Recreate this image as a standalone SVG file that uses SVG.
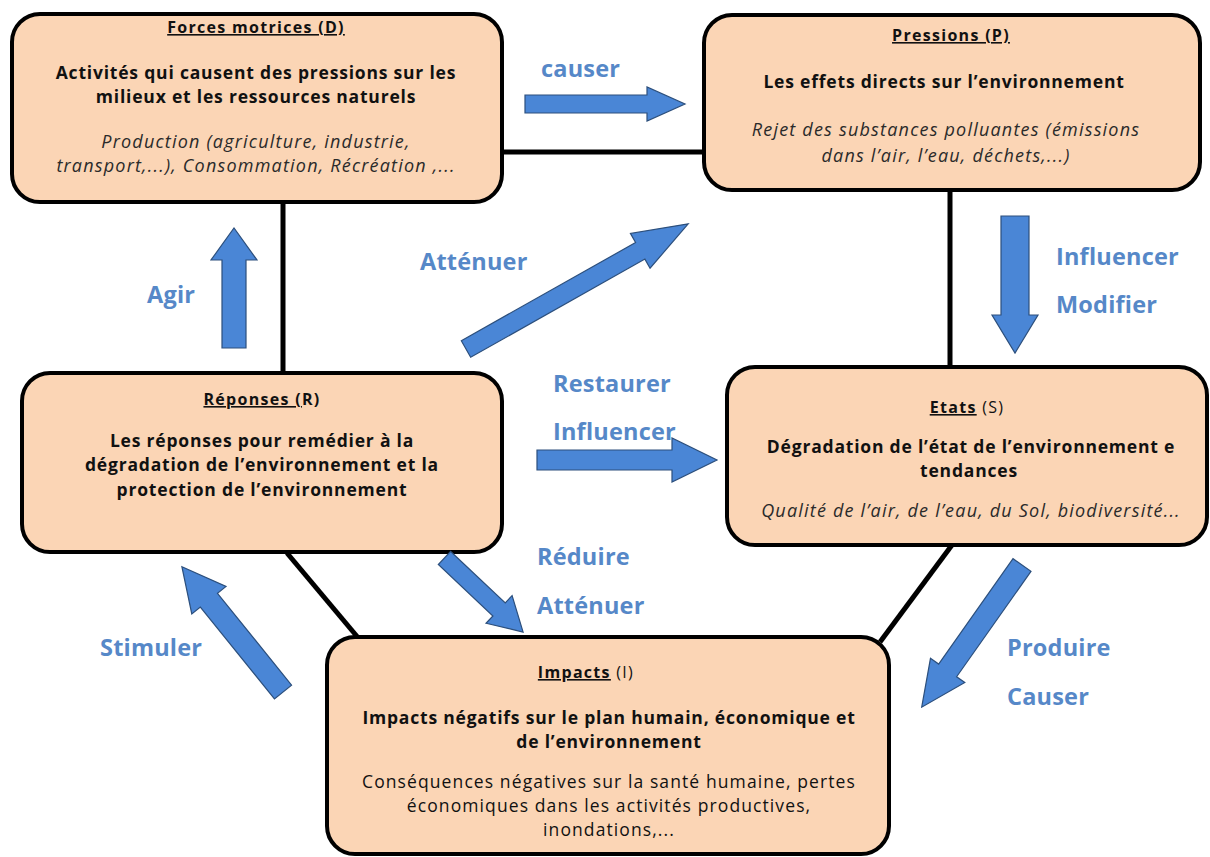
<svg xmlns="http://www.w3.org/2000/svg" width="1210" height="857" viewBox="0 0 1210 857">
<style>
.box{fill:#fbd5b5;stroke:#000;stroke-width:4}
.conn{stroke:#000;stroke-width:5;fill:none}
.arrow{fill:#4a86d6;stroke:#2c4f7c;stroke-width:1.2}
.lbl{font-family:"Open Sans","Liberation Sans",sans-serif;font-weight:bold;font-size:23.5px;letter-spacing:0.2px;fill:#5688c8}
.t{font-family:"Open Sans","Liberation Sans",sans-serif;fill:#111;text-anchor:middle}
.ti{font-size:16px;font-weight:bold;letter-spacing:1.3px}
.b{font-size:17.5px;font-weight:bold;letter-spacing:0.8px}
.i{font-size:18px;font-style:italic;letter-spacing:1.2px;fill:#2a2a2a}
.r{font-size:17.5px;letter-spacing:1.1px}
.u{text-decoration:underline}
.n{font-weight:normal}
</style>
<rect width="1210" height="857" fill="#fff"/>
<g id="connectors">
<line class="conn" x1="500" y1="152" x2="704" y2="152"/>
<line class="conn" x1="283" y1="202" x2="283" y2="373"/>
<line class="conn" x1="950" y1="190" x2="950" y2="367"/>
<line class="conn" x1="287" y1="553" x2="360" y2="640"/>
<line class="conn" x1="952" y1="545" x2="880" y2="642"/>
</g>
<g id="node-D">
<rect class="box" x="12" y="14" width="490" height="188" rx="28"/>
<text class="t ti" x="256" y="33"><tspan class="u">Forces motrices (D)</tspan></text>
<text class="t b" x="256" y="79">Activités qui causent des pressions sur les</text>
<text class="t b" x="256" y="103">milieux et les ressources naturels</text>
<text class="t i" x="256" y="148">Production (agriculture, industrie,</text>
<text class="t i" x="256" y="172">transport,...), Consommation, Récréation ,...</text>
</g>
<g id="node-P">
<rect class="box" x="704" y="15" width="496" height="175" rx="28"/>
<text class="t ti" x="951" y="41"><tspan class="u">Pressions (P)</tspan></text>
<text class="t b" x="944" y="88">Les effets directs sur l’environnement</text>
<text class="t i" x="946" y="136">Rejet des substances polluantes (émissions</text>
<text class="t i" x="946" y="162">dans l’air, l’eau, déchets,...)</text>
</g>
<g id="node-R">
<rect class="box" x="22" y="373" width="480" height="179" rx="28"/>
<text class="t ti" x="262" y="405"><tspan class="u">Réponses (</tspan>R)</text>
<text class="t b" x="262" y="447">Les réponses pour remédier à la</text>
<text class="t b" x="262" y="471">dégradation de l’environnement et la</text>
<text class="t b" x="262" y="496">protection de l’environnement</text>
</g>
<g id="node-S">
<rect class="box" x="727" y="367" width="480" height="178" rx="28"/>
<text class="t ti" x="967" y="413"><tspan class="u">Etats</tspan><tspan class="n"> (S)</tspan></text>
<text class="t b" x="971" y="453">Dégradation de l’état de l’environnement e</text>
<text class="t b" x="969" y="477">tendances</text>
<text class="t i" x="971" y="517">Qualité de l’air, de l’eau, du Sol, biodiversité...</text>
</g>
<g id="node-I">
<rect class="box" x="327" y="637" width="562" height="217" rx="28"/>
<text class="t ti" x="586" y="678"><tspan class="u">Impacts</tspan><tspan class="n"> (I)</tspan></text>
<text class="t b" x="609" y="724">Impacts négatifs sur le plan humain, économique et</text>
<text class="t b" x="609" y="748">de l’environnement</text>
<text class="t r" x="609" y="788">Conséquences négatives sur la santé humaine, pertes</text>
<text class="t r" x="609" y="812">économiques dans les activités productives,</text>
<text class="t r" x="609" y="836">inondations,...</text>
</g>
<g id="arrows">
<polygon class="arrow" points="525,95 647,95 647,87 685,104 647,121 647,113 525,113"/>
<polygon class="arrow" points="222,348 222,260 211,260 234,228 257,260 246,260 246,348"/>
<polygon class="arrow" points="537,450 672,450 672,438 717,460 672,482 672,470 537,470"/>
<polygon class="arrow" points="1001,216 1029,216 1029,315 1038,315 1015,353 992,315 1001,315"/>
<polygon class="arrow" points="0,-9.5 200,-9.5 200,-20 255,0 200,20 200,9.5 0,9.5" transform="translate(466,349) rotate(-29.4)"/>
<polygon class="arrow" points="0,-11 118,-11 118,-22 161,0 118,22 118,11 0,11" transform="translate(283,692) rotate(-128.9)"/>
<polygon class="arrow" points="0,-11 129,-11 129,-21 174,0 129,21 129,11 0,11" transform="translate(1022,565) rotate(125.2)"/>
<polygon class="arrow" points="0,-9 75,-9 75,-19 108,0 75,19 75,9 0,9" transform="translate(444.5,558) rotate(43.3)"/>
</g>
<g id="labels">
<text class="lbl" x="541" y="77">causer</text>
<text class="lbl" x="420" y="270">Atténuer</text>
<text class="lbl" x="147" y="303">Agir</text>
<text class="lbl" x="1056" y="265">Influencer</text>
<text class="lbl" x="1056" y="313">Modifier</text>
<text class="lbl" x="553" y="392">Restaurer</text>
<text class="lbl" x="553" y="440">Influencer</text>
<text class="lbl" x="537" y="565">Réduire</text>
<text class="lbl" x="537" y="614">Atténuer</text>
<text class="lbl" x="100" y="656">Stimuler</text>
<text class="lbl" x="1007" y="656">Produire</text>
<text class="lbl" x="1007" y="705">Causer</text>
</g>
</svg>
